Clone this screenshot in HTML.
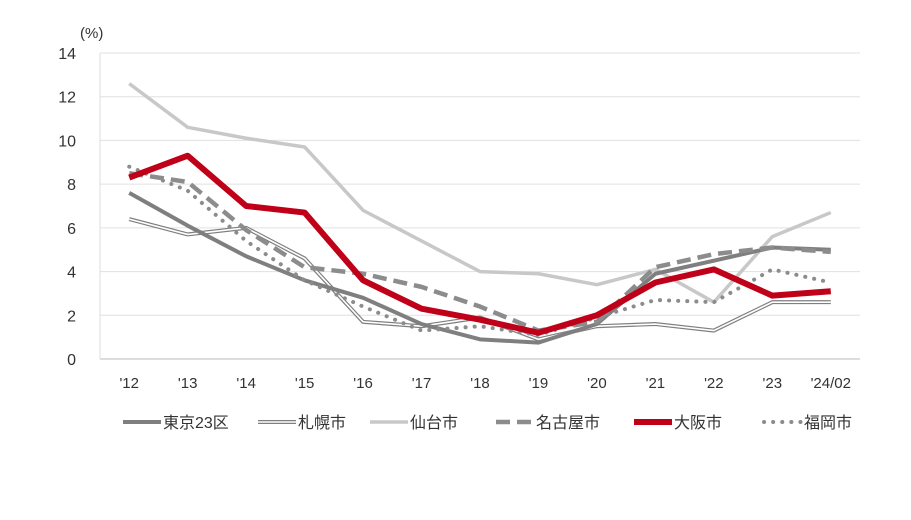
<!DOCTYPE html>
<html><head><meta charset="utf-8"><style>
body{margin:0;background:#fff;width:911px;height:515px;overflow:hidden;font-family:"Liberation Sans","Noto Sans CJK JP",sans-serif}
svg text{font-family:"Liberation Sans","Noto Sans CJK JP",sans-serif;fill:#333}
</style></head><body>
<svg id="chart" width="911" height="515" xmlns="http://www.w3.org/2000/svg"></svg>
<script>
const categories=["'12","'13","'14","'15","'16","'17","'18","'19","'20","'21","'22","'23","'24/02"];
const yTicks=[0,2,4,6,8,10,12,14];
const tokyo=[7.6,6.1,4.7,3.6,2.8,1.6,0.9,0.75,1.6,3.9,4.5,5.1,5.0];
const sapporo=[6.4,5.7,6.0,4.6,1.7,1.5,1.9,0.9,1.5,1.6,1.3,2.6,2.6];
const sendai=[12.6,10.6,10.1,9.7,6.8,5.4,4.0,3.9,3.4,4.1,2.6,5.6,6.7];
const nagoya=[8.5,8.1,5.9,4.2,3.9,3.3,2.4,1.3,1.7,4.2,4.8,5.1,4.9];
const osaka=[8.3,9.3,7.0,6.7,3.6,2.3,1.8,1.2,2.0,3.5,4.1,2.9,3.1];
const fukuoka=[8.8,7.7,5.4,3.6,2.4,1.3,1.5,1.1,1.9,2.7,2.6,4.1,3.5];
const seriesNames=["東京23区","札幌市","仙台市","名古屋市","大阪市","福岡市"];

const NS="http://www.w3.org/2000/svg";
const svg=document.getElementById('chart');
const x0=100,x1=860,yBase=359,yTop=53,yMax=14;
const xs=i=>x0+(x1-x0)/categories.length*(i+0.5);
const ys=v=>yBase-(yBase-yTop)*v/yMax;
function mk(t,a){const e=document.createElementNS(NS,t);for(const k in a)e.setAttribute(k,a[k]);svg.appendChild(e);return e;}
yTicks.forEach(v=>{
  const g=mk('line',{x1:x0,x2:x1,y1:ys(v),y2:ys(v),stroke:v===0?'#bbb':'#e0e0e0','stroke-width':1});
  
  
  const t=mk('text',{x:76,y:ys(v)+6,'text-anchor':'end','font-size':16});
  t.textContent=v;
  
  
});
const u=mk('text',{x:80,y:38,'font-size':15});u.textContent='(%)';


const ax=mk('line',{x1:x0,x2:x0,y1:yTop,y2:yBase,stroke:'#ddd'});


categories.forEach((c,i)=>{
  const t=mk('text',{x:xs(i),y:388,'text-anchor':'middle','font-size':15});
  t.textContent=c;
  
  
});
const styles=[
 {data:tokyo,stroke:'#7f7f7f',w:4,dash:null},
 {data:sapporo,stroke:'#7f7f7f',w:4,dash:null,dbl:true},
 {data:sendai,stroke:'#c8c8c8',w:3.5,dash:null},
 {data:nagoya,stroke:'#8c8c8c',w:4.5,dash:'14 7'},
 {data:osaka,stroke:'#c00018',w:6,dash:null},
 {data:fukuoka,stroke:'#8c8c8c',w:4,dash:'0.1 9',cap:'round'}
];
const order=[2,1,0,3,5,4];
order.forEach(si=>{
  const s=styles[si];
  const pts=s.data.map((v,i)=>xs(i)+','+ys(v)).join(' ');
  const p=mk('polyline',{points:pts,fill:'none',stroke:s.stroke,'stroke-width':s.w,'stroke-linejoin':'round','stroke-linecap':s.cap||'butt'});
  if(s.dash)p.setAttribute('stroke-dasharray',s.dash);
  
  
  if(s.dbl){const q=mk('polyline',{points:pts,fill:'none',stroke:'#fff','stroke-width':1.6,'stroke-linejoin':'round'});
    
    }
});
// legend
const lx=[123,258,370,496,634,764];
seriesNames.forEach((n,i)=>{
  const s=styles[i];
  const l=mk('line',{x1:lx[i],x2:lx[i]+38,y1:422,y2:422,stroke:s.stroke,'stroke-width':s.w,'stroke-linecap':s.cap||'butt'});
  if(s.dash)l.setAttribute('stroke-dasharray',s.dash);
  
  
  if(s.dbl){const q=mk('line',{x1:lx[i],x2:lx[i]+38,y1:422,y2:422,stroke:'#fff','stroke-width':1.6});
    
    }
  const t=mk('text',{x:lx[i]+40,y:428,'font-size':16});
  t.textContent=n;
  
  
});
</script>
</body></html>
